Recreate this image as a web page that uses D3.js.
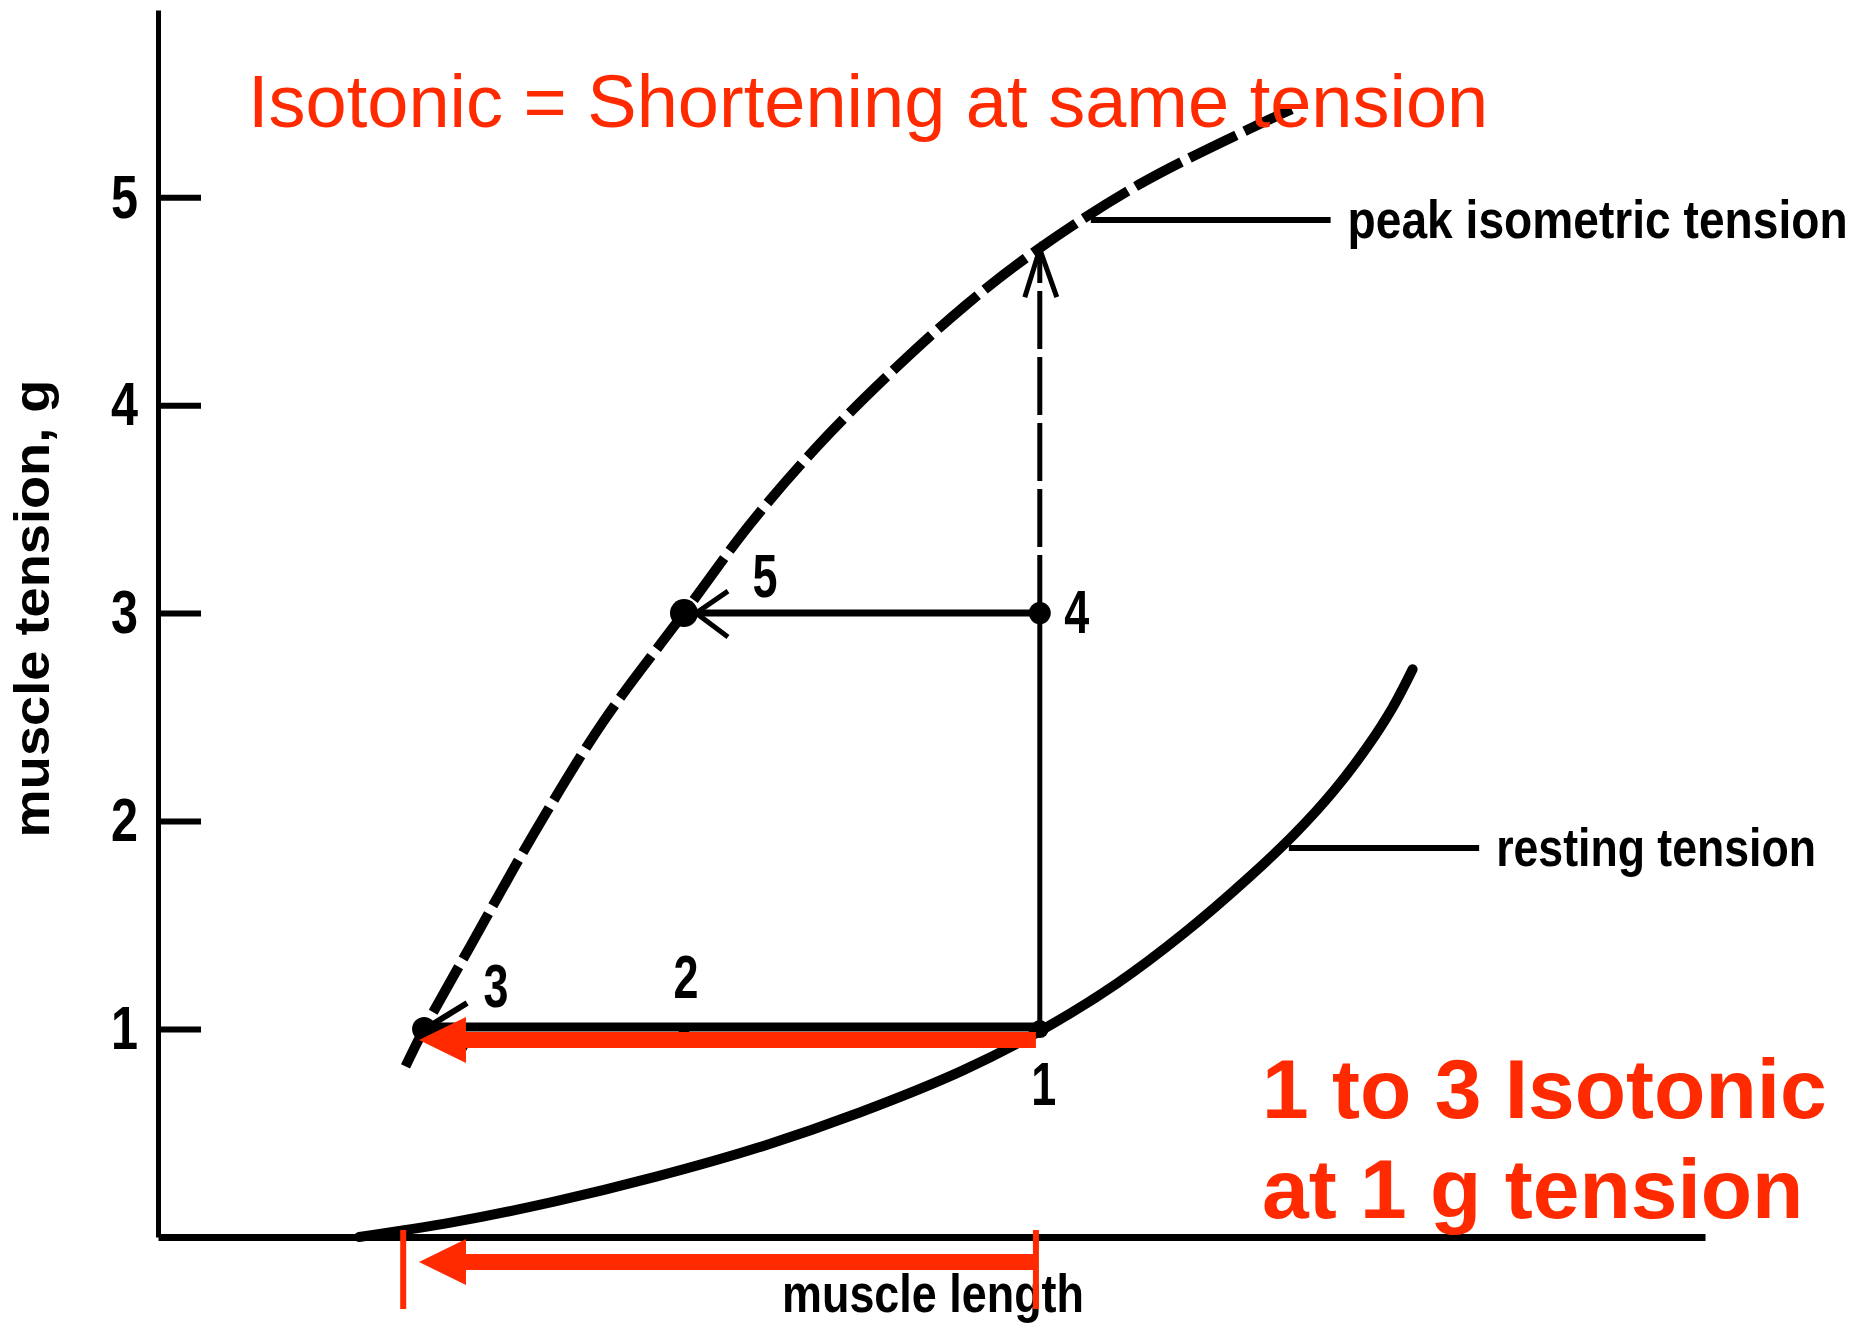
<!DOCTYPE html>
<html>
<head>
<meta charset="utf-8">
<script src="https://cdn.jsdelivr.net/npm/d3@7/dist/d3.min.js"></script>
<style>
  html, body { margin: 0; padding: 0; background: #ffffff; }
  svg { display: block; }
</style>
</head>
<body>
<div id="chart"></div>
<script>
// Length-tension diagram, isotonic contraction 1 -> 3
// x = muscle length (arbitrary units, 0 at the y axis), y = muscle tension in g

// dashed curve (peak isometric tension), [length, tension]
const peakCurve = [
  [16.0, 0.82], [17.2, 1.0], [20.2, 1.40], [24.3, 1.94], [28.8, 2.48],
  [34.0, 3.0], [38.3, 3.43], [42.6, 3.80], [47.0, 4.13], [52.2, 4.48],
  [56.9, 4.75], [63.4, 5.06], [70.6, 5.33], [73.5, 5.43]
];

// solid curve (resting tension), [length, tension]
const restingCurve = [
  [13.0, 0.0], [19.0, 0.07], [25.6, 0.17], [32.2, 0.29], [38.8, 0.43],
  [45.4, 0.60], [52.0, 0.80], [57.0, 0.99], [62.0, 1.22], [66.3, 1.46],
  [70.6, 1.735], [73.5, 1.94], [76.0, 2.145], [78.2, 2.36], [79.8, 2.545],
  [81.1, 2.73]
];

const yTicks = [1, 2, 3, 4, 5];

// numbered states
const pointLabels = ["1", "2", "3", "4", "5"];
const pointLengths = [57.0, 34.0, 17.2, 57.0, 34.0];
const pointTensions = [1, 1, 1, 3, 3];

// top of the isometric jump from 4
const peakLength = 57.0;
const peakTension = 4.75;

// leader lines for the curve names
const curveNames = ["peak isometric tension", "resting tension"];
const leaderFrom = [60.3, 73.1];
const leaderTo = [75.8, 85.4];
const leaderTension = [4.89, 1.87];

// red overlay: shortening from 1 to 3
const shortenFrom = 56.75;
const shortenTo = 16.87;
const lengthMarks = [15.85, 56.75];

const W = 1873, H = 1324;
const RED = "#ff2a00";
const FONT = "'Liberation Sans', Arial, Helvetica, sans-serif";

const svg = d3.select("#chart")
    .append("svg")
    .attr("width", W)
    .attr("height", H)
    .style("background-color", "#ffffff");

const x = d3.scaleLinear().domain([0, 100]).range([158, 1705]);
const y = d3.scaleLinear().domain([0, 5.9]).range([1237, 10]);

// squeeze a label horizontally to the width of the scanned (condensed) lettering
function condense(sel, len){
    sel.each(function(){
        const s = len / this.getComputedTextLength();
        const tx = +this.getAttribute("x") || 0;
        const old = this.getAttribute("transform");
        if (old) {
            this.setAttribute("transform", old + " scale(" + s + ",1)");
        } else {
            this.setAttribute("transform",
                "translate(" + tx + ",0) scale(" + s + ",1) translate(" + (-tx) + ",0)");
        }
    });
}

// X axis, no ticks
svg.append("g")
    .attr("transform", "translate(0," + y(0) + ")")
    .call(d3.axisBottom(x).tickValues([]).tickSizeOuter(0))
    .call(g => g.select(".domain").attr("stroke", "#000").attr("stroke-width", 7));

// Y axis, ticks pointing inward
svg.append("g")
    .attr("transform", "translate(" + x(0) + ",0)")
    .call(d3.axisLeft(y).tickValues(yTicks).tickSizeInner(-43).tickSizeOuter(0)
        .tickPadding(20).tickFormat(d3.format("d")))
    .call(g => g.select(".domain").attr("stroke", "#000").attr("stroke-width", 5))
    .call(g => g.selectAll(".tick line").attr("stroke", "#000").attr("stroke-width", 6))
    .call(g => g.selectAll(".tick text")
        .attr("fill", "#000")
        .attr("font-family", FONT)
        .attr("font-weight", "bold")
        .attr("font-size", 62)
        .call(condense, 27));

// axis titles
svg.append("text")
    .attr("transform", "translate(49," + ((y(0) + y(5.9)) / 2 - 15) + ") rotate(-90)")
    .attr("text-anchor", "middle")
    .attr("font-family", FONT)
    .attr("font-weight", "bold")
    .attr("font-size", 50)
    .text("muscle tension, g")
    .call(condense, 458);

svg.append("text")
    .attr("x", 933)
    .attr("y", 1312)
    .attr("text-anchor", "middle")
    .attr("font-family", FONT)
    .attr("font-weight", "bold")
    .attr("font-size", 54)
    .text("muscle length")
    .call(condense, 302);

const smooth = d3.line()
    .x(d => x(d[0]))
    .y(d => y(d[1]))
    .curve(d3.curveCatmullRom.alpha(0.5));

// peak isometric tension (dashed)
svg.append("path")
    .datum(peakCurve)
    .attr("d", smooth)
    .attr("fill", "none")
    .attr("stroke", "#000")
    .attr("stroke-width", 10)
    .attr("stroke-dasharray", "52,9");

// resting tension (solid)
svg.append("path")
    .datum(restingCurve)
    .attr("d", smooth)
    .attr("fill", "none")
    .attr("stroke", "#000")
    .attr("stroke-width", 10)
    .attr("stroke-linecap", "round");

// leader lines and names
curveNames.forEach((name, i) => {
    svg.append("line")
        .attr("x1", x(leaderFrom[i])).attr("x2", x(leaderTo[i]))
        .attr("y1", y(leaderTension[i])).attr("y2", y(leaderTension[i]))
        .attr("stroke", "#000")
        .attr("stroke-width", 6);
    svg.append("text")
        .attr("x", x(leaderTo[i]) + 17)
        .attr("y", y(leaderTension[i]) + 18)
        .attr("font-family", FONT)
        .attr("font-weight", "bold")
        .attr("font-size", 54)
        .text(name)
        .call(condense, i === 0 ? 500 : 320);
});

const p1 = [x(pointLengths[0]), y(pointTensions[0])];
const p3 = [x(pointLengths[2]), y(pointTensions[2])];
const p4 = [x(pointLengths[3]), y(pointTensions[3])];
const p5 = [x(pointLengths[4]), y(pointTensions[4])];
const pk = [x(peakLength), y(peakTension)];

// 1 -> 4 (solid) and 4 -> peak (dashed)
svg.append("line")
    .attr("x1", p1[0]).attr("x2", p4[0])
    .attr("y1", p1[1]).attr("y2", p4[1])
    .attr("stroke", "#000").attr("stroke-width", 5);
svg.append("line")
    .attr("x1", p4[0]).attr("x2", pk[0])
    .attr("y1", p4[1]).attr("y2", pk[1] + 4)
    .attr("stroke", "#000").attr("stroke-width", 5)
    .attr("stroke-dasharray", "58,8");

// 4 -> 5
svg.append("line")
    .attr("x1", p4[0]).attr("x2", p5[0] + 6)
    .attr("y1", p4[1]).attr("y2", p5[1])
    .attr("stroke", "#000").attr("stroke-width", 7);

// 1 -> 3
svg.append("line")
    .attr("x1", p1[0]).attr("x2", p3[0])
    .attr("y1", p1[1] - 2).attr("y2", p3[1] - 2)
    .attr("stroke", "#000").attr("stroke-width", 9);

// open arrow heads
const chevron = d3.line();
svg.append("path")
    .attr("d", chevron([[pk[0] - 15, pk[1] + 48], pk, [pk[0] + 17, pk[1] + 48]]))
    .attr("fill", "none").attr("stroke", "#000").attr("stroke-width", 5);
svg.append("path")
    .attr("d", chevron([[p5[0] + 44, p5[1] - 22], [p5[0] + 12, p5[1]], [p5[0] + 44, p5[1] + 24]]))
    .attr("fill", "none").attr("stroke", "#000").attr("stroke-width", 5);
svg.append("path")
    .attr("d", chevron([[p3[0] + 43, p3[1] - 26], [p3[0] + 4, p3[1] - 2], [p3[0] + 43, p3[1] + 20]]))
    .attr("fill", "none").attr("stroke", "#000").attr("stroke-width", 6);

// state dots
const dotR = [9, 6, 12, 11, 14];
svg.selectAll("circle.state")
    .data(pointLabels)
    .enter().append("circle")
    .attr("class", "state")
    .attr("cx", (d, i) => x(pointLengths[i]))
    .attr("cy", (d, i) => y(pointTensions[i]))
    .attr("r", (d, i) => dotR[i])
    .attr("fill", "#000");

// state numbers
const labelDx = [4, 2, 72, 37, 81];
const labelDy = [54, -53, -44, -2, -38];
svg.selectAll("text.state")
    .data(pointLabels)
    .enter().append("text")
    .attr("class", "state")
    .attr("x", (d, i) => x(pointLengths[i]) + labelDx[i])
    .attr("y", (d, i) => y(pointTensions[i]) + labelDy[i])
    .attr("dy", "0.36em")
    .attr("text-anchor", "middle")
    .attr("font-family", FONT)
    .attr("font-weight", "bold")
    .attr("font-size", 62)
    .text(d => d)
    .call(condense, 25);

// red arrows
function redArrow(yc){
    const xr = x(shortenFrom), xt = x(shortenTo);
    const hw = 8, hl = 47, hh = 23;
    return "M" + xr + "," + (yc - hw) +
        "L" + (xt + hl) + "," + (yc - hw) +
        "L" + (xt + hl) + "," + (yc - hh) +
        "L" + xt + "," + yc +
        "L" + (xt + hl) + "," + (yc + hh) +
        "L" + (xt + hl) + "," + (yc + hw) +
        "L" + xr + "," + (yc + hw) + "Z";
}
svg.append("path").attr("d", redArrow(y(1) + 11)).attr("fill", RED);
svg.append("path").attr("d", redArrow(y(0) + 25)).attr("fill", RED);

svg.selectAll("line.mark")
    .data(lengthMarks)
    .enter().append("line")
    .attr("class", "mark")
    .attr("x1", d => x(d)).attr("x2", d => x(d))
    .attr("y1", y(0) - 7).attr("y2", y(0) + 72)
    .attr("stroke", RED)
    .attr("stroke-width", 6);

// red notes
svg.append("text")
    .attr("x", 248)
    .attr("y", 127)
    .attr("fill", RED)
    .attr("font-family", FONT)
    .attr("font-size", 74)
    .text("Isotonic = Shortening at same tension");

const noteLines = ["1 to 3 Isotonic", "at 1 g tension"];
svg.selectAll("text.note")
    .data(noteLines)
    .enter().append("text")
    .attr("class", "note")
    .attr("x", 1262)
    .attr("y", (d, i) => 1118 + i * 100)
    .attr("fill", RED)
    .attr("font-family", FONT)
    .attr("font-weight", "bold")
    .attr("font-size", 84)
    .text(d => d);
</script>
</body>
</html>
